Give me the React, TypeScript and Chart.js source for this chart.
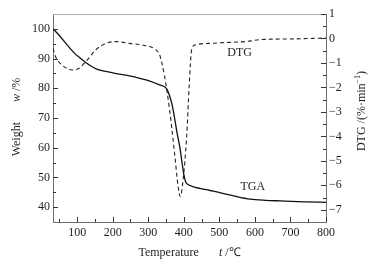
import React, { useEffect, useRef } from "react";
import { Chart, registerables } from "chart.js";

Chart.register(...registerables);

const tgaTemp = [32, 48, 76, 95, 105, 124, 152, 200, 247, 294, 330, 351, 360, 367, 374, 381, 389, 395, 400, 405, 410, 426, 474, 493, 540, 587, 630, 672, 740, 800];
const tgaWeight = [100, 98, 94, 91.5, 90.5, 88.7, 86.6, 85.2, 84.2, 82.8, 81.2, 80, 77.5, 74.5, 70, 65, 60, 55, 51, 48.5, 47.8, 46.9, 45.6, 45.1, 43.8, 42.7, 42.3, 42.1, 41.8, 41.6];

const dtgTemp = [32, 39, 57, 86, 105, 124, 152, 181, 209, 247, 294, 320, 332, 346, 360, 374, 384, 390, 398, 408, 415, 422, 431, 474, 511, 560, 590, 610, 700, 800];
const dtgRate = [-0.4, -0.74, -1.08, -1.29, -1.22, -0.95, -0.47, -0.2, -0.13, -0.2, -0.3, -0.45, -0.67, -1.56, -2.92, -4.69, -6.06, -6.46, -5.78, -4.01, -1.97, -0.47, -0.27, -0.2, -0.17, -0.14, -0.1, -0.05, -0.02, 0.02];

const xTicks = [100, 200, 300, 400, 500, 600, 700, 800];
const xMinor = [50, 150, 250, 350, 450, 550, 650, 750];
const yTicks = [40, 50, 60, 70, 80, 90, 100];
const yMinor = [45, 55, 65, 75, 85, 95];
const y2Ticks = [-7, -6, -5, -4, -3, -2, -1, 0, 1];
const y2Minor = [-6.5, -5.5, -4.5, -3.5, -2.5, -1.5, -0.5, 0.5];

const dtgLabel = { text: "DTG", x: 557, y: -0.59 };
const tgaLabel = { text: "TGA", x: 594, y: 46.8 };

const FONT = "'Liberation Serif', 'Times New Roman', serif";
const TEXT = "#1e1e1e";
const FRAME = "#707070";

const decorPlugin = {
  id: "decor",
  afterDraw(chart: any) {
    const { ctx, chartArea } = chart;
    const xs = chart.scales.x;
    const ys = chart.scales.y;
    const y2 = chart.scales.y2;
    ctx.save();
    // top border
    ctx.strokeStyle = "#b0b0b0";
    ctx.lineWidth = 1;
    ctx.beginPath();
    ctx.moveTo(chartArea.left, chartArea.top + 0.5);
    ctx.lineTo(chartArea.right, chartArea.top + 0.5);
    ctx.stroke();

    // inner tick marks
    ctx.strokeStyle = "#333";
    ctx.beginPath();
    const b = chartArea.bottom;
    xTicks.forEach((v) => { const p = Math.round(xs.getPixelForValue(v)) + 0.5; ctx.moveTo(p, b); ctx.lineTo(p, b - 5); });
    xMinor.forEach((v) => { const p = Math.round(xs.getPixelForValue(v)) + 0.5; ctx.moveTo(p, b); ctx.lineTo(p, b - 3); });
    const l = chartArea.left;
    yTicks.forEach((v) => { const p = Math.round(ys.getPixelForValue(v)) + 0.5; ctx.moveTo(l, p); ctx.lineTo(l + 5, p); });
    yMinor.forEach((v) => { const p = Math.round(ys.getPixelForValue(v)) + 0.5; ctx.moveTo(l, p); ctx.lineTo(l + 3, p); });
    const r = chartArea.right;
    y2Ticks.forEach((v) => { const p = Math.round(y2.getPixelForValue(v)) + 0.5; ctx.moveTo(r, p); ctx.lineTo(r - 5, p); });
    y2Minor.forEach((v) => { const p = Math.round(y2.getPixelForValue(v)) + 0.5; ctx.moveTo(r, p); ctx.lineTo(r - 3, p); });
    ctx.stroke();

    ctx.fillStyle = TEXT;
    ctx.textBaseline = "middle";
    const normal = "12px " + FONT;
    const italic = "italic 12px " + FONT;

    const drawRun = (parts: { t: string; f: string; dy?: number; gap?: number }[], cx: number, cy: number, rot: number) => {
      let total = 0;
      parts.forEach((p) => { ctx.font = p.f; total += ctx.measureText(p.t).width + (p.gap || 0); });
      ctx.save();
      ctx.translate(cx, cy);
      ctx.rotate(rot);
      let x = -total / 2;
      ctx.textAlign = "left";
      parts.forEach((p) => {
        ctx.font = p.f;
        ctx.fillText(p.t, x, p.dy || 0);
        x += ctx.measureText(p.t).width + (p.gap || 0);
      });
      ctx.restore();
    };

    // x title
    drawRun([
      { t: "Temperature", f: normal, gap: 20 },
      { t: "t", f: italic },
      { t: " /\u2103", f: normal },
    ], (chartArea.left + chartArea.right) / 2, 253, 0);

    // left title
    drawRun([
      { t: "Weight", f: normal, gap: 20 },
      { t: "w", f: italic },
      { t: " /%", f: normal },
    ], 17, 117, -Math.PI / 2);

    // right title
    drawRun([
      { t: "DTG /(%\u00b7min", f: normal },
      { t: "\u22121", f: "8px " + FONT, dy: -4 },
      { t: ")", f: normal },
    ], 362, 111, -Math.PI / 2);

    // curve labels
    ctx.font = normal;
    ctx.textAlign = "center";
    ctx.fillText(dtgLabel.text, xs.getPixelForValue(dtgLabel.x), y2.getPixelForValue(dtgLabel.y));
    ctx.fillText(tgaLabel.text, xs.getPixelForValue(tgaLabel.x), ys.getPixelForValue(tgaLabel.y));
    ctx.restore();
  },
};

export default function App() {
  const ref = useRef<HTMLCanvasElement>(null);
  useEffect(() => {
    if (!ref.current) return;
    const tickFont = { family: FONT, size: 12 };
    const chart = new Chart(ref.current, {
      type: "line",
      data: {
        datasets: [
          {
            label: "TGA",
            data: tgaTemp.map((t, i) => ({ x: t, y: tgaWeight[i] })),
            yAxisID: "y",
            borderColor: "#111",
            borderWidth: 1.3,
            pointRadius: 0,
            cubicInterpolationMode: "monotone",
            fill: false,
          },
          {
            label: "DTG",
            data: dtgTemp.map((t, i) => ({ x: t, y: dtgRate[i] })),
            yAxisID: "y2",
            borderColor: "#222",
            borderWidth: 1.1,
            borderDash: [4, 3],
            pointRadius: 0,
            cubicInterpolationMode: "monotone",
            fill: false,
          },
        ],
      },
      options: {
        animation: false,
        responsive: false,
        maintainAspectRatio: false,
        layout: { padding: { top: 14, left: 0, right: 0, bottom: 0 } },
        plugins: { legend: { display: false }, tooltip: { enabled: false } },
        scales: {
          x: {
            type: "linear",
            min: 32,
            max: 800,
            afterBuildTicks: (s: any) => { s.ticks = xTicks.map((v) => ({ value: v })); },
            afterFit: (s: any) => { s.height = 43; },
            grid: { display: false, drawTicks: false },
            border: { display: true, color: FRAME, width: 1 },
            ticks: { font: tickFont, color: TEXT, padding: 4, maxRotation: 0, autoSkip: false, callback: (v: any) => String(v) },
          },
          y: {
            type: "linear",
            position: "left",
            min: 35,
            max: 105,
            afterBuildTicks: (s: any) => { s.ticks = yTicks.map((v) => ({ value: v })); },
            afterFit: (s: any) => { s.width = 53; },
            grid: { display: false, drawTicks: false },
            border: { display: true, color: FRAME, width: 1 },
            ticks: { font: tickFont, color: TEXT, padding: 3, autoSkip: false, callback: (v: any) => String(v) },
          },
          y2: {
            type: "linear",
            position: "right",
            min: -7.5,
            max: 1,
            afterBuildTicks: (s: any) => { s.ticks = y2Ticks.map((v) => ({ value: v })); },
            afterFit: (s: any) => { s.width = 55; },
            grid: { display: false, drawTicks: false },
            border: { display: true, color: FRAME, width: 1 },
            ticks: {
              font: tickFont,
              color: TEXT,
              padding: 3,
              autoSkip: false,
              callback: (v: any) => (v < 0 ? "\u2212" + Math.abs(v) : String(v)),
            },
          },
        },
      },
      plugins: [decorPlugin],
    } as any);
    return () => chart.destroy();
  }, []);
  return (
    <div style={{ position: "fixed", left: 0, top: 0, width: 381, height: 265, background: "#fff" }}>
      <canvas ref={ref} width={381} height={265} style={{ width: 381, height: 265, display: "block" }} />
    </div>
  );
}
